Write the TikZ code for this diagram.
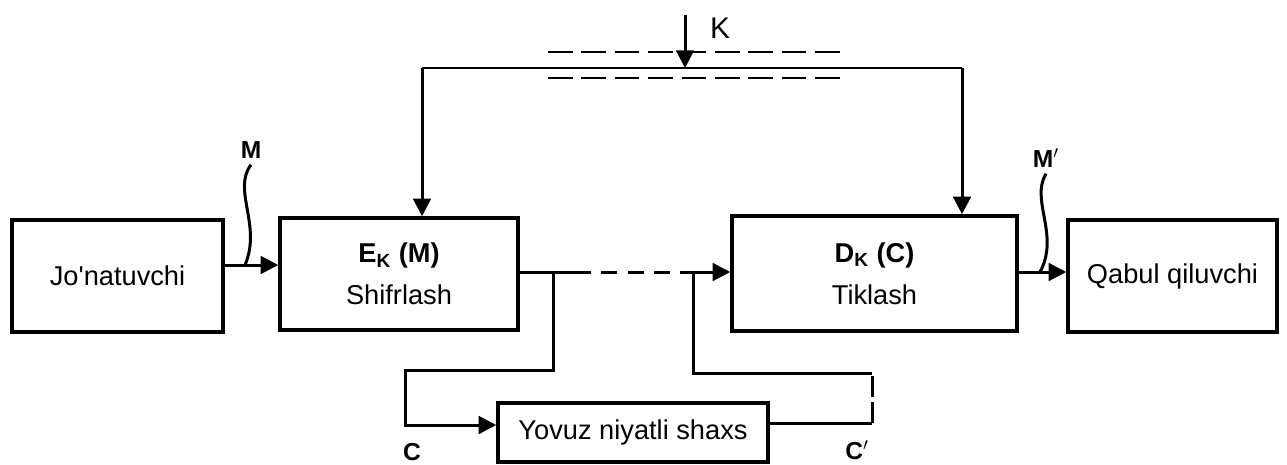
\documentclass[tikz,border=0pt]{standalone}
\usepackage{fontspec}
\setmainfont{Liberation Sans}
\usetikzlibrary{arrows.meta}
\tikzset{
  blok/.style={draw,line width=2pt,inner sep=0pt,align=center,font=\fontsize{15.5}{24}\selectfont},
  lin/.style={line width=1.7pt},
  strel/.style={lin,-{Triangle[length=10pt,width=10pt]}},
  belgi/.style={font=\fontsize{14}{16}\selectfont\bfseries},
}
\begin{document}
\begin{tikzpicture}[x=0.02cm,y=-0.02cm]
\useasboundingbox (0,0) rectangle (1287,464);
\node[blok,minimum width=4.22cm,minimum height=2.24cm] (jon) at (117.5,276) {Jo\textquotesingle natuvchi};
\node[blok,minimum width=4.76cm,minimum height=2.24cm] (shifr) at (399,274) {\textbf{E\textsubscript{K} (M)}\\Shifrlash};
\node[blok,minimum width=5.7cm,minimum height=2.3cm] (tik) at (874.5,273.5) {\textbf{D\textsubscript{K} (C)}\\Tiklash};
\node[blok,minimum width=4.18cm,minimum height=2.24cm] (qabul) at (1172.5,276) {Qabul qiluvchi};
\node[blok,minimum width=5.4cm,minimum height=1.18cm] (yovuz) at (633,432.5) {Yovuz niyatli shaxs};
\node[font=\fontsize{17}{19}\selectfont] (k) at (720,28) {K};
\node[belgi] (m) at (251,150) {M};
\node[belgi] (m2) at (1046,158) {M$'$};
\node[belgi] (c) at (412,452) {C};
\node[belgi] (c2) at (857,450) {C$'$};
\coordinate (kL) at (422,68);
\coordinate (kR) at (962,68);
\coordinate (kTop) at (685,15);
\draw[lin] (kL) -- (kR);
\draw[strel] (kL) -- (kL |- shifr.north);
\draw[strel] (kR) -- (kR |- tik.north);
\draw[strel] (kTop) -- (kTop |- kL);
\draw[lin,dash pattern=on 14pt off 5pt] (548,52) -- (845,52);
\draw[lin,dash pattern=on 14pt off 5pt] (548,78) -- (845,78);
\coordinate (mOut) at (223,265);
\coordinate (mHit) at (245,265);
\draw[strel] (mOut) -- (mOut -| shifr.west);
\draw[lin] (m.south) .. controls (232,190) and (262,225) .. (mHit);
\coordinate (cA) at (553,272);
\coordinate (cB) at (693,272);
\coordinate (cIn) at (405,425);
\coordinate (cOut) at (872,423);
\draw[lin] (shifr.east |- cA) -- (cA) -- (575,272);
\draw[lin,dash pattern=on 9pt off 6pt] (575,272) -- (cB);
\draw[strel] (cB) -- (cB -| tik.west);
\draw[strel] (cA) |- (405,370) -- (cIn) -- (cIn -| yovuz.west);
\draw[lin] (cOut -| yovuz.east) -- (cOut);
\draw[lin,dash pattern=on 12pt off 3pt] (cOut) -- (872,373);
\draw[lin] (872,373) -| (cB);
\coordinate (mHit2) at (1040,272);
\draw[strel] (tik.east |- mHit2) -- (qabul.west |- mHit2);
\draw[lin] (m2.south) .. controls (1030,200) and (1060,235) .. (mHit2);
\end{tikzpicture}
\end{document}
